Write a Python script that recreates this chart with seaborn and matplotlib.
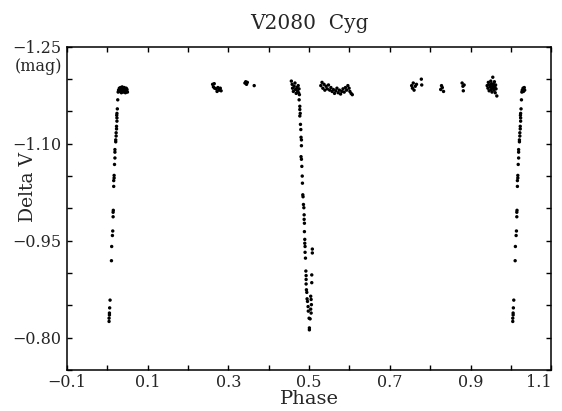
"""
Light curve of the eclipsing binary V2080 Cyg (Delta V against orbital phase).
"""

import numpy as np
import pandas as pd
import matplotlib
matplotlib.use("Agg")
import matplotlib.pyplot as plt
from matplotlib.ticker import MultipleLocator, FixedLocator
import seaborn as sns

# primary eclipse, ingress branch near phase 0
primary_phase = [0.0045, 0.0045, 0.0054, 0.0054, 0.006, 0.007, 0.0104, 0.011, 0.0128,
                 0.0136, 0.0145, 0.0145, 0.015, 0.016, 0.016, 0.017, 0.017, 0.018,
                 0.019, 0.019, 0.019, 0.021, 0.021, 0.022, 0.022, 0.023, 0.023,
                 0.024, 0.024, 0.0235, 0.024, 0.025, 0.026, 0.027,
                 0.028, 0.030, 0.031, 0.033, 0.034, 0.035, 0.036, 0.037, 0.038,
                 0.039, 0.040, 0.041, 0.042, 0.043, 0.044, 0.045, 0.046, 0.047,
                 0.048, 0.049, 0.050]
primary_dv = [-0.825, -0.830, -0.835, -0.838, -0.846, -0.858, -0.919, -0.941, -0.958,
              -0.965, -0.987, -0.994, -0.997, -1.034, -1.043, -1.047, -1.051, -1.068,
              -1.078, -1.087, -1.091, -1.103, -1.106, -1.112, -1.117, -1.123, -1.127,
              -1.135, -1.140, -1.144, -1.147, -1.154, -1.168, -1.180,
              -1.183, -1.186, -1.181, -1.187, -1.183, -1.179, -1.185, -1.188, -1.182,
              -1.186, -1.180, -1.184, -1.187, -1.182, -1.185, -1.179, -1.183, -1.186,
              -1.181, -1.184, -1.180]

# secondary eclipse near phase 0.5
secondary_phase = [0.456, 0.458, 0.459, 0.461, 0.463, 0.465, 0.466, 0.468, 0.470, 0.471,
                   0.473, 0.474, 0.475, 0.476,
                   0.4753, 0.477, 0.477, 0.478, 0.477, 0.4786, 0.4795, 0.480, 0.481,
                   0.481, 0.480, 0.481, 0.482, 0.483, 0.4835, 0.4844, 0.485, 0.486,
                   0.487, 0.4877, 0.4877, 0.4884, 0.4884, 0.4893, 0.4893, 0.490, 0.490,
                   0.491, 0.492, 0.4926, 0.4926, 0.4926, 0.4934, 0.4943, 0.495, 0.496,
                   0.4975, 0.498, 0.500, 0.5007, 0.5007,
                   0.508, 0.508, 0.5066, 0.5066, 0.504, 0.505, 0.5057, 0.504, 0.505,
                   0.5025]
secondary_dv = [-1.197, -1.192, -1.186, -1.181, -1.189, -1.194, -1.184, -1.178, -1.187,
                -1.182, -1.190, -1.179, -1.185, -1.176,
                -1.168, -1.158, -1.153, -1.147, -1.143, -1.130, -1.122, -1.110, -1.106,
                -1.097, -1.080, -1.076, -1.065, -1.050, -1.039, -1.021, -1.018, -1.006,
                -1.001, -0.990, -0.983, -0.977, -0.964, -0.952, -0.946, -0.941, -0.932,
                -0.923, -0.903, -0.896, -0.890, -0.883, -0.874, -0.870, -0.860, -0.856,
                -0.848, -0.841, -0.830, -0.815, -0.812,
                -0.937, -0.931, -0.897, -0.885, -0.864, -0.859, -0.851, -0.844, -0.838,
                -0.829]

# out-of-eclipse (maximum light) observations
max_phase = [0.261, 0.263, 0.265, 0.266, 0.270, 0.272, 0.274, 0.277, 0.280, 0.282,
             0.341, 0.343, 0.345, 0.347, 0.364,
             0.529, 0.532, 0.534, 0.537, 0.539, 0.542, 0.545, 0.548, 0.551, 0.554,
             0.557, 0.560, 0.563, 0.566, 0.569, 0.572, 0.575, 0.578, 0.581, 0.584,
             0.587, 0.590, 0.593, 0.596, 0.599, 0.601, 0.604, 0.607,
             0.754, 0.756, 0.758, 0.760, 0.763, 0.766, 0.778, 0.779,
             0.826, 0.828, 0.830, 0.833,
             0.879, 0.881, 0.884, 0.882,
             0.941, 0.943, 0.944, 0.946, 0.947, 0.949, 0.950, 0.951, 0.952, 0.953,
             0.954, 0.955, 0.956, 0.957, 0.958, 0.959, 0.960, 0.961, 0.962, 0.963,
             0.965]
max_dv = [-1.192, -1.188, -1.193, -1.186, -1.185, -1.181, -1.187, -1.183, -1.186, -1.182,
          -1.194, -1.196, -1.192, -1.195, -1.190,
          -1.190, -1.195, -1.186, -1.192, -1.183, -1.189, -1.185, -1.191, -1.183, -1.187,
          -1.181, -1.184, -1.178, -1.182, -1.186, -1.179, -1.183, -1.177, -1.181, -1.185,
          -1.180, -1.187, -1.183, -1.190, -1.186, -1.181, -1.178, -1.176,
          -1.190, -1.186, -1.194, -1.183, -1.189, -1.192, -1.200, -1.191,
          -1.184, -1.190, -1.187, -1.181,
          -1.194, -1.189, -1.191, -1.182,
          -1.190, -1.186, -1.195, -1.182, -1.191, -1.188, -1.197, -1.184, -1.193, -1.180,
          -1.189, -1.203, -1.186, -1.192, -1.183, -1.196, -1.188, -1.179, -1.191, -1.185,
          -1.174]

x_ticks = [-0.1, 0.1, 0.3, 0.5, 0.7, 0.9, 1.1]
y_ticks = [-1.25, -1.10, -0.95, -0.80]


def build_frame():
    """Collect all observations; the start of the cycle is repeated after phase 1."""
    phase = np.array(primary_phase + secondary_phase + max_phase)
    dv = np.array(primary_dv + secondary_dv + max_dv)
    wrap = phase < 0.035
    phase = np.concatenate([phase, phase[wrap] + 1.0])
    dv = np.concatenate([dv, dv[wrap]])
    return pd.DataFrame({"phase": phase, "delta_v": dv})


def main():
    data = build_frame()

    sns.set_style("ticks")
    plt.rcParams["font.family"] = ["DejaVu Serif"]

    fig = plt.figure(figsize=(5.62, 4.11), dpi=100)
    ax = fig.add_axes([0.119, 0.100, 0.862, 0.786])

    sns.scatterplot(data=data, x="phase", y="delta_v", ax=ax, s=6,
                    color="black", edgecolor="none", linewidth=0)

    ax.set_xlim(-0.1, 1.1)
    ax.set_ylim(-0.75, -1.25)

    ax.xaxis.set_major_locator(FixedLocator(x_ticks))
    ax.xaxis.set_minor_locator(MultipleLocator(0.1))
    ax.yaxis.set_major_locator(FixedLocator(y_ticks))
    ax.yaxis.set_minor_locator(MultipleLocator(0.05))
    ax.set_xticklabels([f"{t:.1f}".replace("-", "\u2212") for t in x_ticks])
    ax.set_yticklabels([f"{t:.2f}".replace("-", "\u2212") for t in y_ticks])

    ax.tick_params(which="both", direction="in", top=True, right=True,
                   length=3.5, width=1, color="black", labelsize=11.5)
    ax.tick_params(axis="x", pad=3)
    ax.tick_params(axis="y", pad=4)
    # keep the last phase label inside the canvas
    ax.get_xticklabels()[-1].set_horizontalalignment("right")
    ax.get_xticklabels()[-1].set_x(1.1)
    for spine in ax.spines.values():
        spine.set_visible(True)
        spine.set_linewidth(1.1)
        spine.set_color("black")

    ax.set_title("V2080  Cyg", fontsize=14.5, pad=13)
    ax.set_xlabel("Phase", fontsize=14, labelpad=-1)
    ax.set_ylabel("Delta V", fontsize=13.5)
    ax.yaxis.set_label_coords(-0.062, 0.565)
    ax.text(-0.010, 0.938, "(mag)", transform=ax.transAxes, ha="right",
            va="center", fontsize=11.5)

    fig.savefig("out.png", dpi=100)
    plt.close(fig)


if __name__ == "__main__":
    main()
